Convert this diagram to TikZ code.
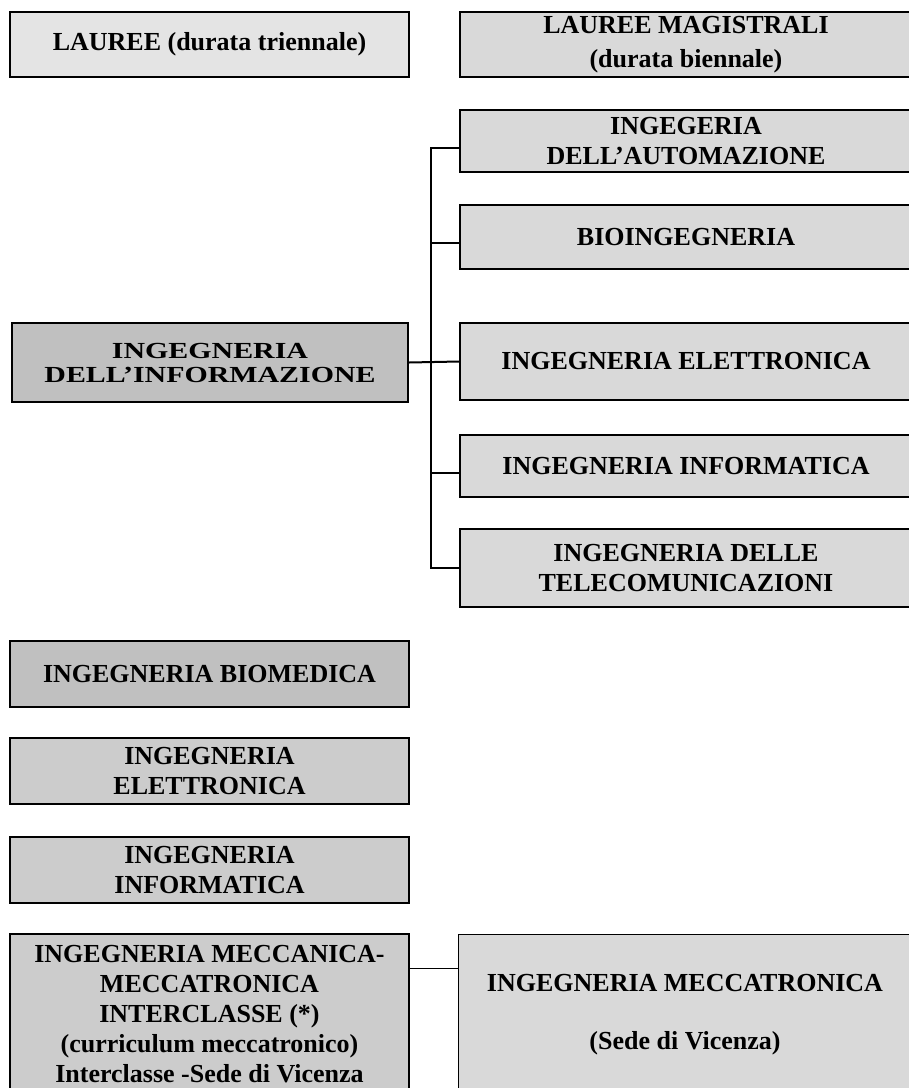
\documentclass[tikz,border=0pt]{standalone}
\usepackage{xcolor}
\usepackage{tikz}
\usepackage{fontspec}
\setmainfont{Liberation Serif}
\newfontfamily\largafont[FakeStretch=1.3, Ligatures=TeX]{Liberation Serif}
\definecolor{laureefill}{RGB}{228, 228, 228}
\definecolor{magistralefill}{RGB}{217, 217, 217}
\definecolor{informazionefill}{RGB}{192, 192, 192}
\definecolor{triennalefill}{RGB}{204, 204, 204}
\usetikzlibrary{positioning, calc}

\tikzset{
    corso/.style={draw=black, line width=1.1pt, inner sep=0pt, align=center,
          font=\fontsize{13}{15}\selectfont\bfseries},
    leftbox/.style={corso, minimum width=199.5pt, fill=triennalefill},
    rightbox/.style={corso, minimum width=226pt, fill=magistralefill},
    ramo/.style={draw=black, line width=1pt}
}

\begin{document}
\begin{tikzpicture}[x=0.5pt, y=-0.5pt]
    \useasboundingbox (0,0) rectangle (909,1088);
    \clip (0,0) rectangle (909,1088);
    \fill[white] (0,0) rectangle (909,1088);

    % titoli delle colonne
    \node[leftbox, fill=laureefill, minimum height=32.5pt] (L0) at (209.5,44.5) {LAUREE (durata triennale)};
    \node[rightbox, minimum height=32.5pt] (R0) at (686,44.5) {LAUREE MAGISTRALI\\[2pt](durata biennale)};

    % lauree magistrali dell'informazione
    \node[rightbox, minimum height=31pt] (R1) at (686,141) {INGEGERIA\\DELL’AUTOMAZIONE};
    \node[rightbox, minimum height=32pt] (R2) at (686,237) {BIOINGEGNERIA};
    \node[rightbox, minimum height=38.5pt] (R3) at (686,361.5) {INGEGNERIA ELETTRONICA};
    \node[rightbox, minimum height=31pt] (R4) at (686,466) {INGEGNERIA INFORMATICA};
    \node[rightbox, minimum height=39pt] (R5) at (686,568) {INGEGNERIA DELLE\\TELECOMUNICAZIONI};

    % lauree triennali
    \node[leftbox, fill=informazionefill, minimum width=198pt, minimum height=39.5pt,
          font=\largafont\fontsize{11.5}{12}\selectfont\bfseries] (L1) at (210,362.5) {INGEGNERIA\\DELL’INFORMAZIONE};
    \node[leftbox, fill=informazionefill, minimum height=33pt] (L2) at (209.5,674) {INGEGNERIA BIOMEDICA};
    \node[leftbox, minimum height=33pt] (L3) at (209.5,771) {INGEGNERIA\\ELETTRONICA};
    \node[leftbox, minimum height=33pt] (L4) at (209.5,870) {INGEGNERIA\\INFORMATICA};
    \node[leftbox, minimum height=80.5pt] (L5) at (209.5,1014.5) {INGEGNERIA MECCANICA-\\MECCATRONICA\\INTERCLASSE (*)\\(curriculum meccatronico)\\Interclasse -Sede di Vicenza};
    \node[rightbox, line width=0.5pt, minimum width=227pt, minimum height=80.5pt] (R6) at (685,1014.5) {INGEGNERIA MECCATRONICA\\[14pt](Sede di Vicenza)};

    % collegamenti
    \coordinate (tronco) at (431,361);
    \coordinate (b1) at ($(R1.west)+(0,7)$);
    \coordinate (b2) at ($(R2.west)+(0,6)$);
    \coordinate (b4) at ($(R4.west)+(0,7)$);
    \draw[ramo] (L1.east) -- (R3.west);
    \draw[ramo] (b1) -| (tronco) |- (R5.west);
    \draw[ramo] (b2) -- (b2 -| tronco);
    \draw[ramo] (b4) -- (b4 -| tronco);
    \draw[draw=black, line width=0.5pt] ($(L5.east)+(0,-46)$) -- ($(R6.west)+(0,-46)$);
\end{tikzpicture}
\end{document}
